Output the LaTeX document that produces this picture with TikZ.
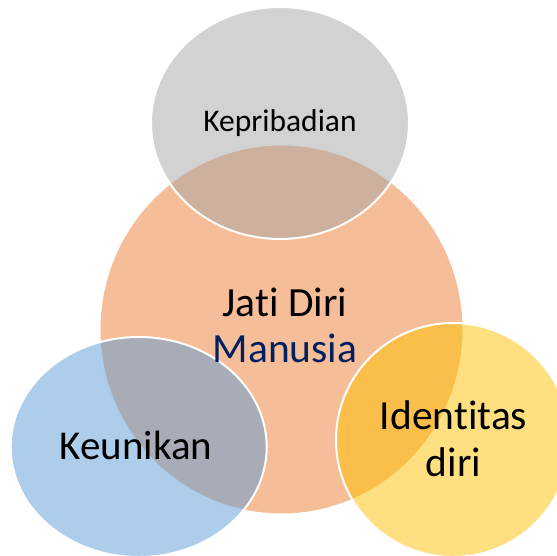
\documentclass[tikz,border=0pt]{standalone}
\usepackage{fontspec}
\setmainfont[Ligatures=NoCommon]{Carlito}
\definecolor{cOrange}{HTML}{ED7D31}
\definecolor{cGrey}{HTML}{A5A5A5}
\definecolor{cBlue}{HTML}{5B9BD5}
\definecolor{cYellow}{HTML}{FFC000}
\definecolor{cNavy}{HTML}{002060}
\begin{document}
\begin{tikzpicture}[x=1pt,y=-1pt,
  venn/.style={draw=white, line width=2pt, fill opacity=0.5},
  lbl/.style={inner sep=0pt, anchor=base, align=center, text=black}]
\useasboundingbox (0,0) rectangle (557,555);
\clip (0,0) rectangle (557,555);
\path[venn, fill=cOrange] (281.5,329.5) ellipse[x radius=182pt, y radius=185pt];
\path[venn, fill=cGrey] (280,123) ellipse[x radius=129pt, y radius=116pt];
\path[venn, fill=cBlue] (138.7,447) ellipse[x radius=128pt, y radius=110pt];
\path[venn, fill=cYellow] (453,440) ellipse[x radius=117pt, y radius=117pt];
\node[lbl, font=\fontsize{31.5}{38}\selectfont] (kep) at (280,131) {Kepribadian};
\node[lbl, font=\fontsize{41.5}{46}\selectfont] (jati) at (285,362) {Jati Diri\\\textcolor{cNavy}{Manusia}};
\node[lbl, font=\fontsize{41}{46}\selectfont] (keu) at (136,459) {Keunikan};
\node[lbl, font=\fontsize{41.5}{47}\selectfont] (ide) at (453.5,476) {Identitas\\diri};
\end{tikzpicture}
\end{document}
